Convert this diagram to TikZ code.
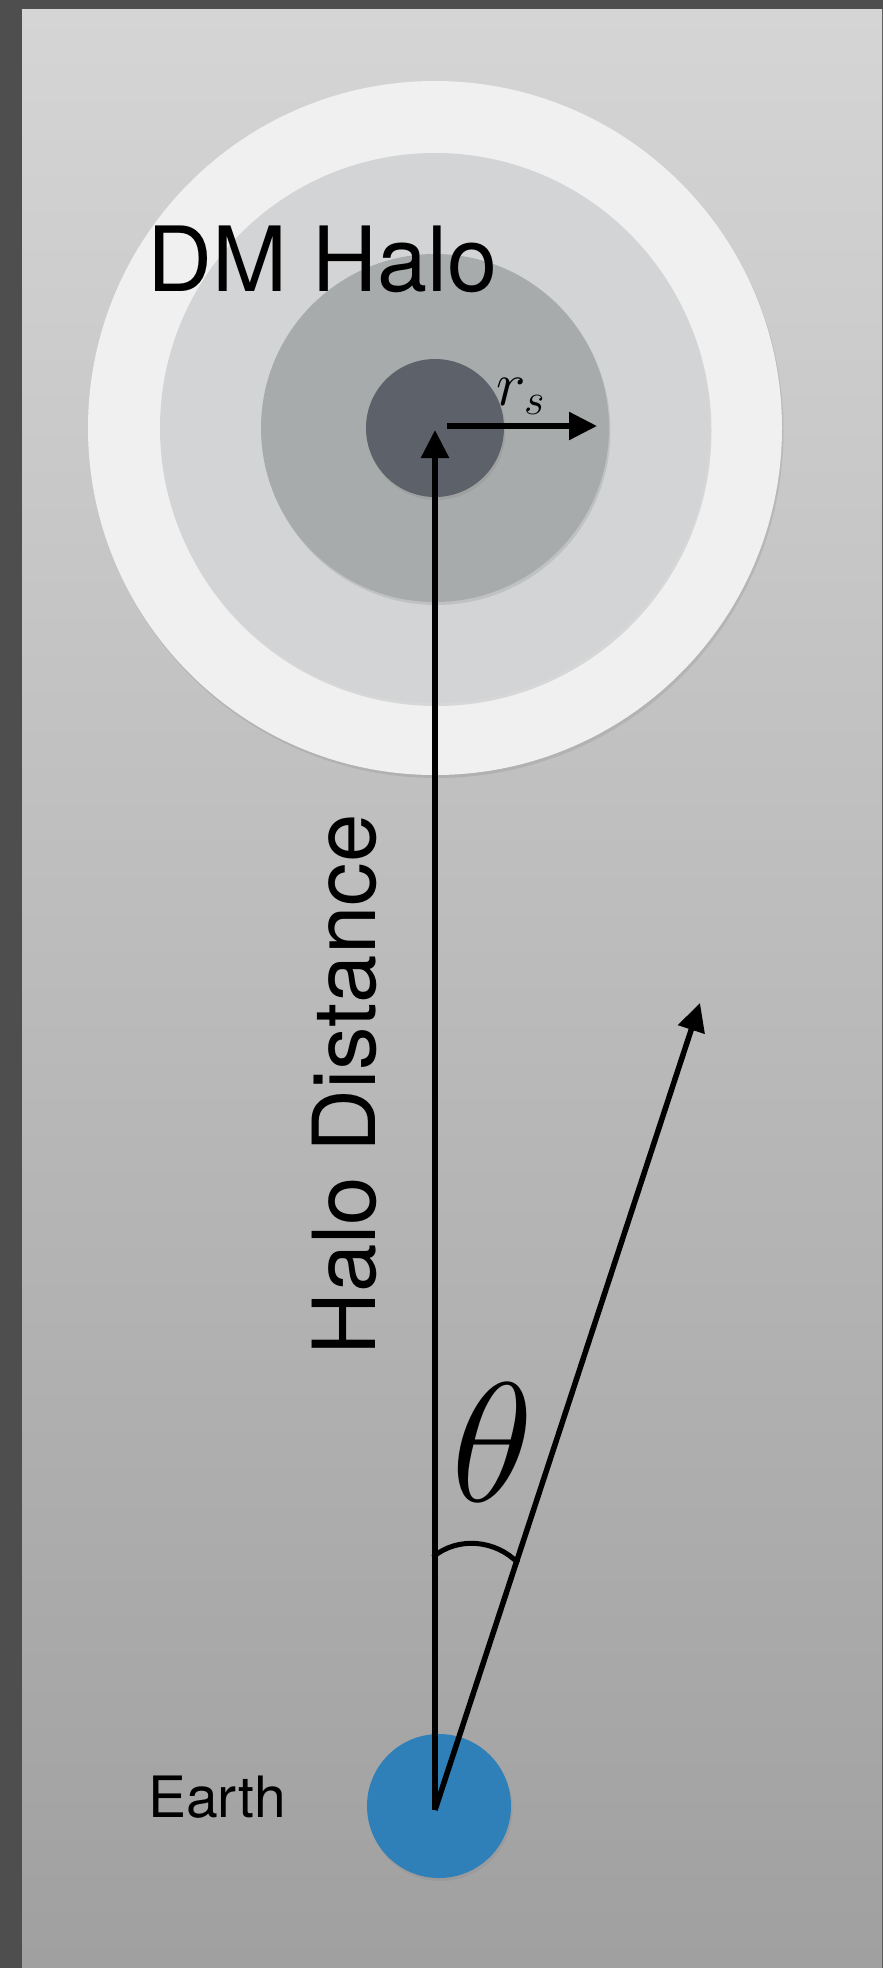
\documentclass[tikz,border=0pt]{standalone}
\usepackage{fix-cm}
\usepackage{amsmath}
\usepackage{fontspec}
\setmainfont{TeX Gyre Heros}
\usetikzlibrary{arrows.meta,shadows}

\definecolor{frame}{RGB}{78,78,78}
\definecolor{paneltop}{RGB}{213,213,213}
\definecolor{panelbot}{RGB}{160,160,160}
\definecolor{halofour}{RGB}{240,240,240}
\definecolor{halothree}{RGB}{211,212,213}
\definecolor{halotwo}{RGB}{168,171,171}
\definecolor{haloone}{RGB}{92,97,106}
\definecolor{earthblue}{RGB}{47,128,184}

\begin{document}
\begin{tikzpicture}[x=1pt,y=-1pt,
    ring/.style={circle,inner sep=0pt,minimum size=#1,
      drop shadow={opacity=0.22,shadow xshift=1.5pt,shadow yshift=-3pt}},
    vec/.style={line width=5.5pt,-{Triangle[length=28pt,width=27pt]}},
    lbl/.style={inner sep=0pt,text=black}]
    \useasboundingbox (0,0) rectangle (883,1968);
    % frame and panel
    \fill[frame] (0,0) rectangle (883,1968);
    \shade[top color=paneltop,bottom color=panelbot] (22,9) rectangle (882,1968);

    % halo rings
    \node[ring=694pt,fill=halofour] (halo4) at (435,428) {};
    \node[ring=550pt,fill=halothree] (halo3) at (435,428) {};
    \node[ring=348pt,fill=halotwo] (halo2) at (435,428) {};
    \node[ring=138pt,fill=haloone] (halo1) at (435,428) {};
    \node[ring=144pt,fill=earthblue] (earth) at (439,1806) {};

    % labels
    \node[lbl,anchor=base west,font=\fontsize{90}{96}\selectfont] (halolbl) at (147,291) {DM Halo};
    \node[lbl,rotate=90,anchor=base,font=\fontsize{87}{90}\selectfont] (distlbl) at (375,1085) {Halo Distance};
    \node[lbl,anchor=base west,font=\fontsize{57}{60}\selectfont] (earthlbl) at (148,1817) {Earth};
    \node[lbl,font=\fontsize{170}{176}\selectfont] (theta) at (493,1442) {$\theta$};
    \node[lbl,anchor=base west,font=\fontsize{63}{66}\selectfont] (rs) at (496,405) {$r_s$};

    % end points
    \coordinate (obs) at (435,1810);
    \coordinate (top) at (435,430);
    \coordinate (rsstart) at (447,426);
    \coordinate (rsend) at (597,426);
    \coordinate (los) at (700,1003);
    \coordinate (arcl) at (433,1557);
    \coordinate (arcr) at (518,1563);

    \draw[vec] (obs) -- (top);
    \draw[vec] (rsstart) -- (rsend);
    \draw[vec] (obs) -- (los);
    \draw[line width=5pt] (arcl) .. controls (458,1536) and (496,1540) .. (arcr);
\end{tikzpicture}
\end{document}
